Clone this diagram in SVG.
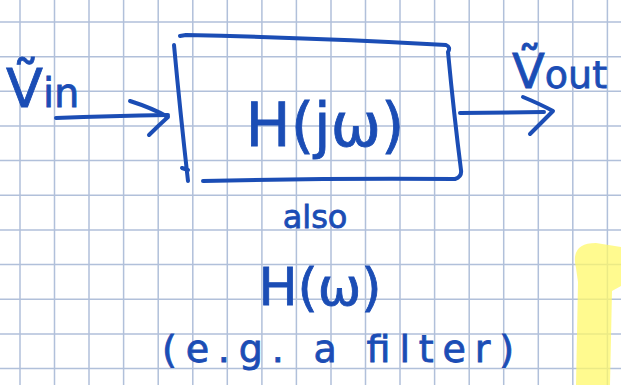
<svg xmlns="http://www.w3.org/2000/svg" width="621" height="385" viewBox="0 0 621 385">
<defs>
<style>
.g{stroke:#b1c0da;stroke-width:1.5;fill:none}
.ink{stroke:#1b4db5;stroke-width:4;fill:none;stroke-linecap:round;stroke-linejoin:round}
.hw{fill:#1b4db5;stroke:#1b4db5;stroke-width:0.8;font-family:"DejaVu Sans","Liberation Sans",sans-serif}
</style>
</defs>
<rect width="621" height="385" fill="#ffffff"/>
<g id="grid">
<path class="g" d="M20,0V385M54.5,0V385M89,0V385M123.6,0V385M158.2,0V385M192.8,0V385M227.3,0V385M261.9,0V385M296.4,0V385M331,0V385M365.5,0V385M400,0V385M434.6,0V385M469.2,0V385M503.7,0V385M538.3,0V385M572.8,0V385M607.4,0V385"/>
<path class="g" d="M0,22H621M0,56.7H621M0,91.3H621M0,126H621M0,160.6H621M0,195.3H621M0,230H621M0,264.6H621M0,299.3H621M0,334H621M0,368.6H621"/>
</g>
<path id="highlight" d="M576,268 Q570,243 596,243 L621,247 L621,286 L612,291 L610,385 L576,385 L578,282 Z" fill="#fff86a" opacity="0.75"/>
<g id="connectors">
<path class="ink" d="M56,118 Q110,116 168,115"/>
<path class="ink" d="M130,101 Q152,108 168,117 Q158,126 149,135"/>
<path class="ink" d="M460,113 L544,112"/>
<path class="ink" d="M523,97 Q540,104 553,111 Q542,122 530,134"/>
</g>
<g id="system">
<path class="ink" d="M180,36 L186,35 Q320,38 446,45 Q451,47 448,52 Q454,115 461,170 Q462,177 455,179 Q330,178 203,181"/>
<path class="ink" d="M174,45 Q180,110 188,181 M188,170 L182,168"/>
<text class="hw" x="325" y="146" font-size="60" text-anchor="middle">H(jω)</text>
</g>
<g id="input">
<text class="hw" x="6" y="107" font-size="54">Ṽ<tspan font-size="40">in</tspan></text>
</g>
<g id="output">
<text class="hw" x="512" y="88" font-size="48">Ṽ<tspan font-size="38">out</tspan></text>
</g>
<g id="note">
<text class="hw" x="315" y="228" font-size="32" text-anchor="middle">also</text>
<text class="hw" x="320" y="305" font-size="52" text-anchor="middle">H(ω)</text>
<text class="hw" x="162" y="362" font-size="38" textLength="352" lengthAdjust="spacing">(e.g. a filter)</text>
</g>
</svg>
